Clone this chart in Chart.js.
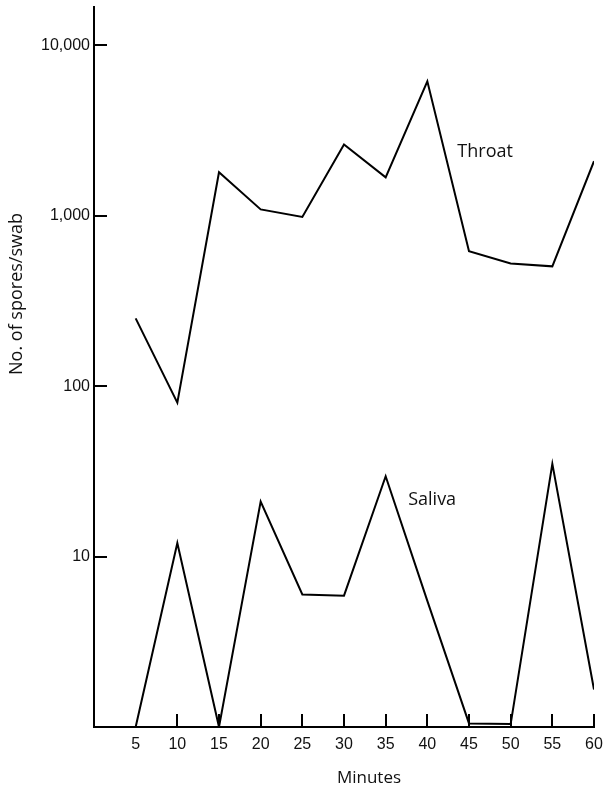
<!DOCTYPE html>
<html>
<head>
<meta charset="utf-8">
<title>Spores per swab</title>
<script src="https://cdn.jsdelivr.net/npm/chart.js@4.4.1/dist/chart.umd.min.js"></script>
<style>
  html, body { margin: 0; padding: 0; background: #fff; }
  #wrap { width: 608px; height: 791px; position: relative; }
</style>
</head>
<body>
<div id="wrap"><canvas id="chart"></canvas></div>
<script>
// Sampling times (minutes) and spore counts per swab
const minutes = [5, 10, 15, 20, 25, 30, 35, 40, 45, 50, 55, 60];
const throat  = [250, 80, 1800, 1090, 985, 2620, 1680, 6150, 620, 525, 505, 2090];
const saliva  = [1, 12, 1, 21, 6, 5.9, 29.6, 5.5, 1.05, 1.04, 35, 1.66];

// Axis ticks
const xTickValues = [5, 10, 15, 20, 25, 30, 35, 40, 45, 50, 55, 60];
const xTickMarks  = [10, 15, 20, 25, 30, 35, 40, 45, 50, 55, 60];
const yTickValues = [10, 100, 1000, 10000];

// Series labels placed beside their curves (minutes, count at baseline)
const seriesLabels = [
  { text: 'Throat', x: 43.6, y: 2200 },
  { text: 'Saliva', x: 37.7, y: 20 }
];

const ink = '#111';
const numFont = { family: '"Liberation Sans", Arial, sans-serif', size: 16 };
const wordFont = '"Open Sans", "DejaVu Sans", sans-serif';

// Inward tick marks, axis titles and curve labels
const decorations = {
  id: 'decorations',
  afterDraw(chart) {
    const { ctx, chartArea, scales: { x, y } } = chart;
    ctx.save();
    ctx.strokeStyle = '#000';
    ctx.lineWidth = 2;
    yTickValues.forEach(v => {
      const py = Math.round(y.getPixelForValue(v));
      ctx.beginPath();
      ctx.moveTo(chartArea.left, py);
      ctx.lineTo(chartArea.left + 13, py);
      ctx.stroke();
    });
    xTickMarks.forEach(v => {
      const px = Math.round(x.getPixelForValue(v));
      ctx.beginPath();
      ctx.moveTo(px, chartArea.bottom);
      ctx.lineTo(px, chartArea.bottom - 13);
      ctx.stroke();
    });

    ctx.fillStyle = ink;
    ctx.textBaseline = 'alphabetic';

    ctx.font = '17px ' + wordFont;
    ctx.textAlign = 'center';
    ctx.fillText('Minutes', x.getPixelForValue(33), 783);

    ctx.save();
    ctx.translate(17, 294);
    ctx.rotate(-Math.PI / 2);
    ctx.font = '18px ' + wordFont;
    ctx.textBaseline = 'middle';
    ctx.fillText('No. of spores/swab', 0, 0);
    ctx.restore();

    ctx.font = '18px ' + wordFont;
    ctx.textAlign = 'left';
    seriesLabels.forEach(l => {
      ctx.fillText(l.text, x.getPixelForValue(l.x), y.getPixelForValue(l.y));
    });
    ctx.restore();
  }
};

new Chart(document.getElementById('chart'), {
  type: 'line',
  data: {
    labels: minutes,
    datasets: [
      {
        label: 'Throat',
        data: minutes.map((m, i) => ({ x: m, y: throat[i] })),
        borderColor: '#000',
        borderWidth: 2,
        pointRadius: 0,
        tension: 0,
        fill: false
      },
      {
        label: 'Saliva',
        data: minutes.map((m, i) => ({ x: m, y: saliva[i] })),
        borderColor: '#000',
        borderWidth: 2,
        pointRadius: 0,
        tension: 0,
        fill: false
      }
    ]
  },
  options: {
    responsive: true,
    maintainAspectRatio: false,
    devicePixelRatio: 1,
    animation: false,
    layout: { padding: { top: 7, right: 14, left: 0, bottom: 0 } },
    plugins: {
      legend: { display: false },
      tooltip: { enabled: false },
      title: { display: false }
    },
    scales: {
      x: {
        type: 'linear',
        min: 0,
        max: 60,
        afterBuildTicks: s => { s.ticks = xTickValues.map(v => ({ value: v })); },
        afterFit: s => { s.height = 64; s.paddingLeft = 0; s.paddingRight = 0; },
        ticks: {
          color: ink,
          font: numFont,
          padding: 8,
          maxRotation: 0,
          autoSkip: false,
          callback: v => String(v)
        },
        grid: { display: false, drawTicks: false },
        border: { display: true, color: '#000', width: 2 }
      },
      y: {
        type: 'logarithmic',
        min: 1,
        max: 16800,
        afterBuildTicks: s => { s.ticks = yTickValues.map(v => ({ value: v })); },
        afterFit: s => { s.width = 94; s.paddingTop = 0; s.paddingBottom = 0; },
        ticks: {
          color: ink,
          font: numFont,
          padding: 4,
          autoSkip: false,
          callback: v => Number(v).toLocaleString('en-US')
        },
        grid: { display: false, drawTicks: false },
        border: { display: true, color: '#000', width: 2 }
      }
    }
  },
  plugins: [decorations]
});
</script>
</body>
</html>
